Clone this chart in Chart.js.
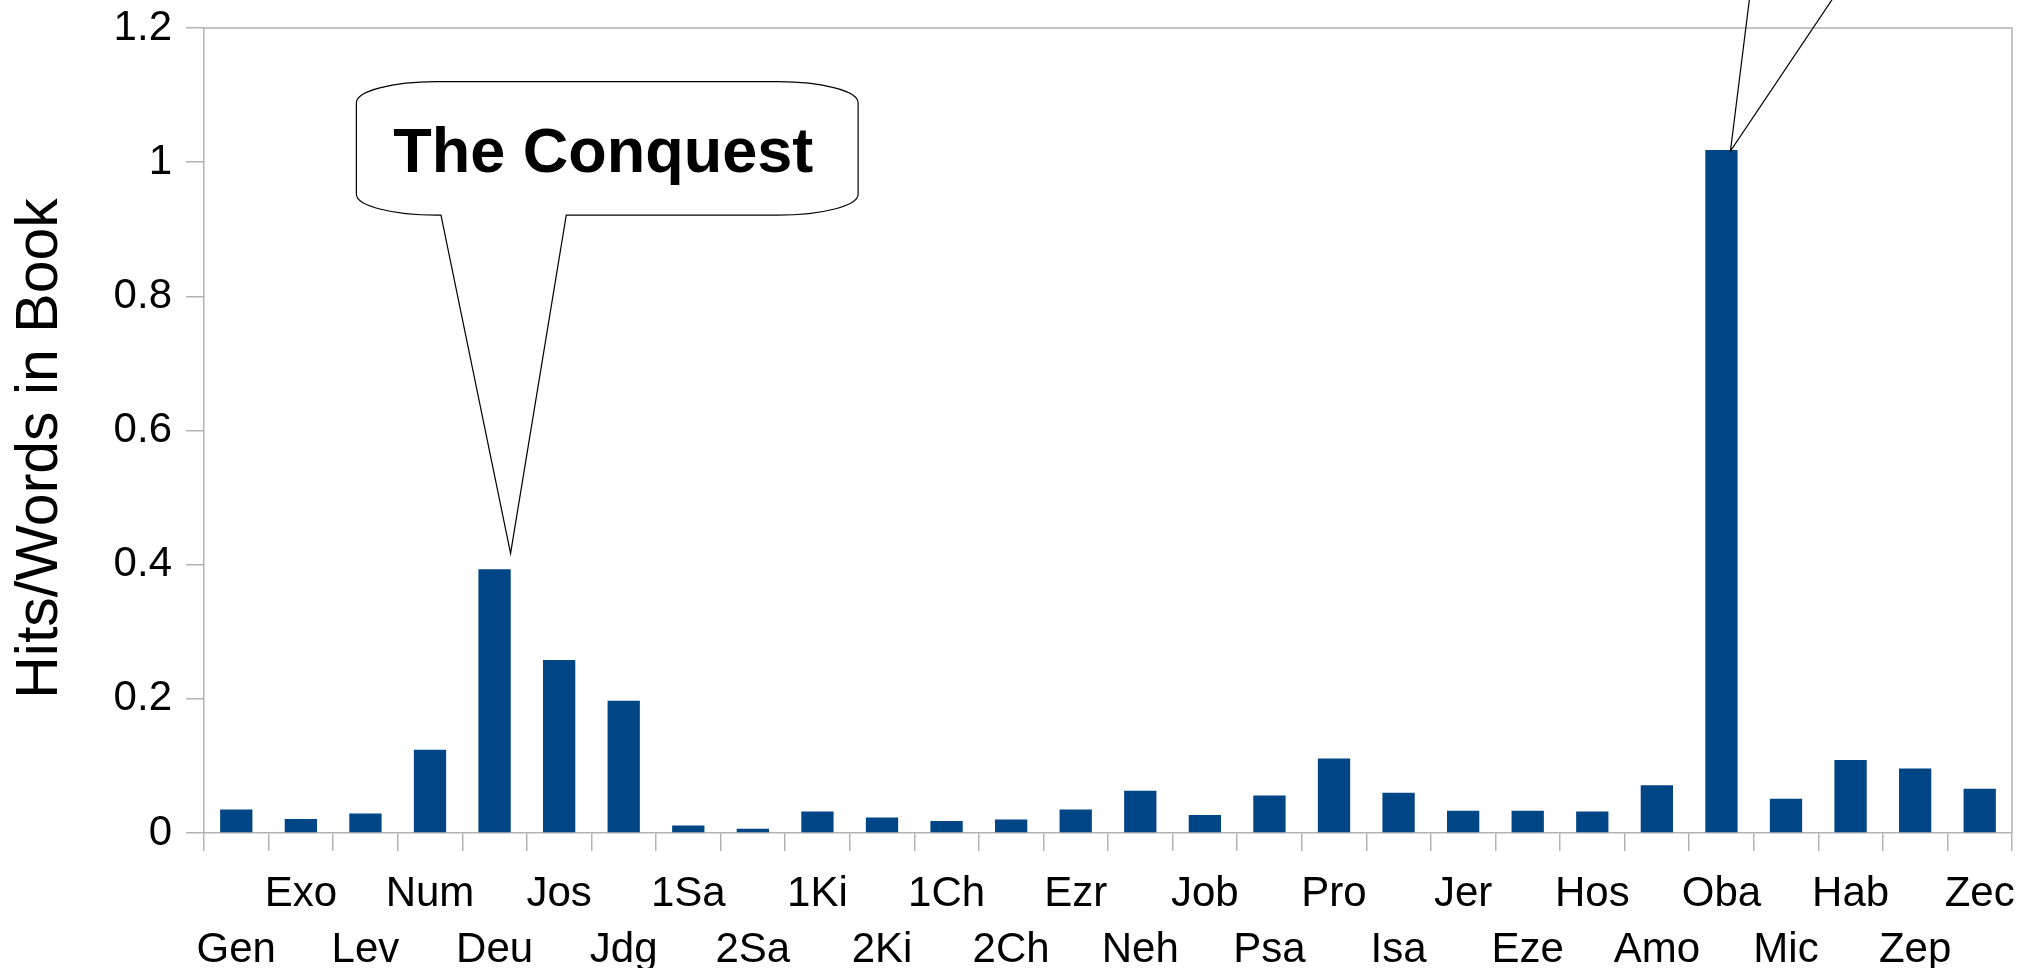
<!DOCTYPE html>
<html>
<head>
<meta charset="utf-8">
<script src="https://cdn.jsdelivr.net/npm/chart.js@4"></script>
<style>
  html, body { margin: 0; padding: 0; background: #fff; }
  #wrap { width: 2031px; height: 968px; position: relative; }
</style>
</head>
<body>
<div id="wrap"><canvas id="hits"></canvas></div>
<script>
const books = ['Gen', 'Exo', 'Lev', 'Num', 'Deu', 'Jos', 'Jdg', '1Sa', '2Sa', '1Ki', '2Ki', '1Ch', '2Ch', 'Ezr',
               'Neh', 'Job', 'Psa', 'Pro', 'Isa', 'Jer', 'Eze', 'Hos', 'Amo', 'Oba', 'Mic', 'Hab', 'Zep', 'Zec'];
const hitsPerWords = [0.035, 0.021, 0.029, 0.124, 0.393, 0.258, 0.197, 0.011, 0.0065, 0.032, 0.023, 0.018, 0.020, 0.035,
                      0.063, 0.027, 0.056, 0.111, 0.060, 0.033, 0.033, 0.032, 0.071, 1.018, 0.051, 0.109, 0.096, 0.066];
const yAxisTitle = 'Hits/Words in Book';
const conquestLabel = 'The Conquest';

const FONT = '"Liberation Sans", Arial, sans-serif';
const GRAY = '#b3b3b3';

// labels alternate between two rows like the office chart did
const staggered = books.map((b, i) => i % 2 ? [b, ''] : ['', b]);

// plot frame (top + right edges) and the y title, which sits a bit below centre
const framePlugin = {
    id: 'frame',
    beforeDatasetsDraw(chart) {
        const {ctx, chartArea: a} = chart;
        ctx.save();
        ctx.strokeStyle = GRAY;
        ctx.lineWidth = 1.5;
        ctx.beginPath();
        ctx.moveTo(a.left, a.top);
        ctx.lineTo(a.right, a.top);
        ctx.lineTo(a.right, a.bottom);
        ctx.stroke();

        ctx.translate(41, (a.top + a.bottom) / 2 + 18);
        ctx.rotate(-Math.PI / 2);
        ctx.fillStyle = '#000';
        ctx.font = '59px ' + FONT;
        ctx.textAlign = 'center';
        ctx.textBaseline = 'middle';
        ctx.fillText(yAxisTitle, 0, 0);
        ctx.restore();
    }
};

// speech bubble callouts pointing at bars
const calloutPlugin = {
    id: 'callouts',
    afterDatasetsDraw(chart) {
        const {ctx, scales: {x, y}} = chart;
        const bars = chart.getDatasetMeta(0).data;

        // "The Conquest" bubble over Deu
        const deu = bars[books.indexOf('Deu')];
        const L = x.getPixelForValue(1.86), R = x.getPixelForValue(9.63);
        const T = y.getPixelForValue(1.12), B = y.getPixelForValue(0.921);
        const tl = x.getPixelForValue(3.17), tr = x.getPixelForValue(5.11);
        const ax = deu.x + 16, ay = deu.y - 16;
        const rx = 80, ry = 21;

        ctx.save();
        ctx.beginPath();
        ctx.moveTo(L, B - ry);
        ctx.lineTo(L, T + ry);
        ctx.ellipse(L + rx, T + ry, rx, ry, 0, Math.PI, 1.5 * Math.PI);
        ctx.lineTo(R - rx, T);
        ctx.ellipse(R - rx, T + ry, rx, ry, 0, 1.5 * Math.PI, 2 * Math.PI);
        ctx.lineTo(R, B - ry);
        ctx.ellipse(R - rx, B - ry, rx, ry, 0, 0, 0.5 * Math.PI);
        ctx.lineTo(tr, B);
        ctx.lineTo(ax, ay);
        ctx.lineTo(tl, B);
        ctx.lineTo(L + rx, B);
        ctx.ellipse(L + rx, B - ry, rx, ry, 0, 0.5 * Math.PI, Math.PI);
        ctx.closePath();
        ctx.fillStyle = '#fff';
        ctx.fill();
        ctx.strokeStyle = '#000';
        ctx.lineWidth = 1.2;
        ctx.stroke();

        ctx.fillStyle = '#000';
        ctx.font = 'bold 63px ' + FONT;
        ctx.textAlign = 'center';
        ctx.textBaseline = 'alphabetic';
        ctx.fillText(conquestLabel, (L + R) / 2 - 4, T + 90);

        // second bubble sits above the canvas; only its tail shows
        const oba = bars[books.indexOf('Oba')];
        const ox = oba.x + 9, oy = oba.y + 1;
        ctx.beginPath();
        ctx.moveTo(ox + 19 * 1.1, oy - 152 * 1.1);
        ctx.lineTo(ox, oy);
        ctx.lineTo(ox + 102 * 1.1, oy - 152 * 1.1);
        ctx.stroke();
        ctx.restore();
    }
};

new Chart('hits', {
    type: 'bar',
    data: {
        labels: staggered,
        datasets: [{
            label: yAxisTitle,
            data: hitsPerWords,
            backgroundColor: '#004586',
            barPercentage: 0.5,
            categoryPercentage: 1.0,
        }]
    },
    options: {
        responsive: true,
        maintainAspectRatio: false,
        animation: false,
        layout: { padding: { top: 28, right: 19, bottom: 0, left: 0 } },
        plugins: {
            legend: { display: false },
            tooltip: { enabled: false },
        },
        scales: {
            x: {
                grid: { drawOnChartArea: false, tickLength: 18, color: GRAY, lineWidth: 1.5 },
                border: { color: GRAY, width: 1.5 },
                ticks: {
                    autoSkip: false,
                    maxRotation: 0,
                    padding: 15,
                    color: '#000',
                    font: { family: FONT, size: 42, lineHeight: 1.333 },
                },
                afterFit: s => { s.height = 135; },
            },
            y: {
                min: 0,
                max: 1.2,
                ticks: {
                    stepSize: 0.2,
                    padding: 14,
                    color: '#000',
                    // small lineHeight keeps the top label from pushing the plot down
                    font: { family: FONT, size: 42, lineHeight: 0.6 },
                    callback: v => String(Number(v.toFixed(1))),
                },
                grid: { drawOnChartArea: false, tickLength: 18, color: GRAY, lineWidth: 1.5 },
                border: { color: GRAY, width: 1.5 },
                afterFit: s => { s.width = 204; },
            }
        }
    },
    plugins: [framePlugin, calloutPlugin]
});
</script>
</body>
</html>
